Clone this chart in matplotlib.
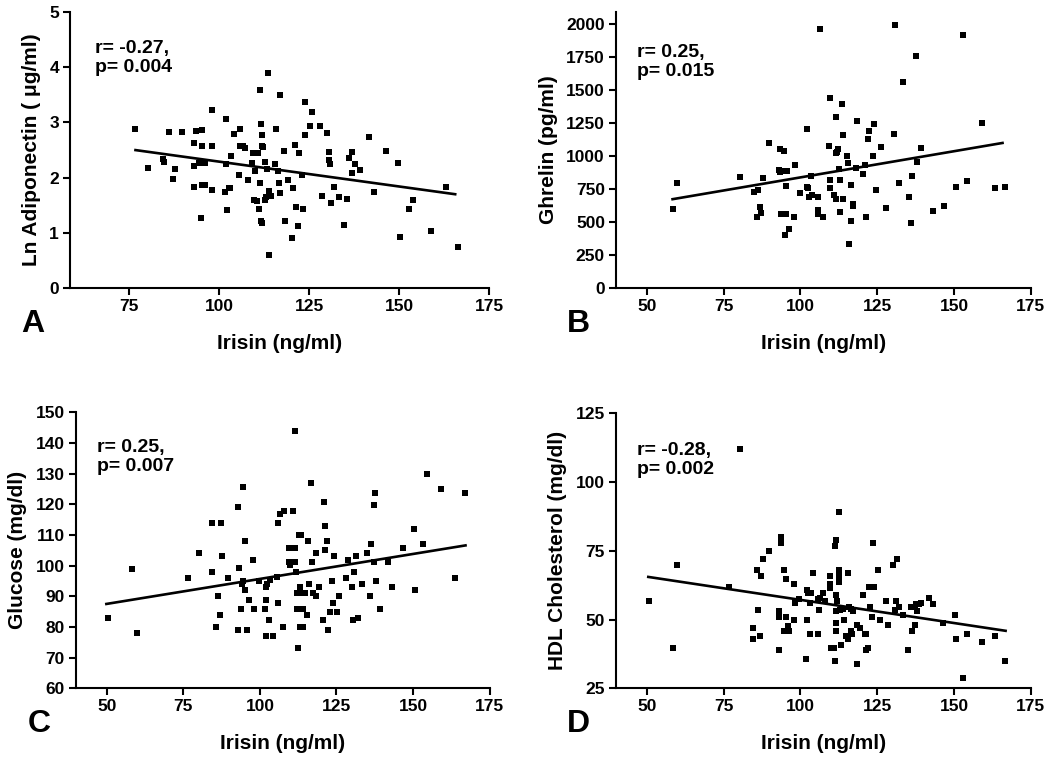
import matplotlib.pyplot as plt

plt.rcParams['font.family'] = ['Liberation Sans', 'DejaVu Sans']
plt.rcParams['font.weight'] = 'bold'

# Panel A: Ln adiponectin vs irisin
a_irisin = [76.7, 80.2, 84.4, 84.5, 86.1, 87.0, 87.8, 89.6, 92.9, 93.1, 93.1, 93.6, 94.3, 95.0,
            95.2, 95.2, 95.2, 95.9, 96.1, 98.0, 98.0, 98.1, 101.6, 101.9, 101.9, 102.1, 102.6,
            103.1, 103.2, 104.2, 105.6, 105.7, 105.7, 106.5, 107.2, 107.9, 109.1, 109.4, 109.6,
            109.9, 110.6, 110.9, 111.1, 111.3, 111.4, 111.6, 111.6, 111.9, 111.9, 112.0, 112.2,
            112.7, 112.7, 113.0, 113.3, 113.5, 113.7, 113.9, 114.4, 115.6, 115.8, 116.4, 116.7,
            116.9, 116.9, 118.1, 118.2, 119.0, 120.3, 120.4, 121.1, 121.3, 122.0, 122.2, 123.0,
            123.3, 123.8, 123.9, 125.2, 125.7, 128.1, 128.5, 129.9, 130.6, 130.6, 130.7, 131.1,
            131.9, 133.3, 134.8, 135.6, 136.1, 137.0, 137.0, 137.8, 139.2, 141.5, 143.1, 146.3,
            149.8, 150.3, 152.8, 154.0, 158.8, 163.0, 166.5]
a_adipo = [2.88, 2.17, 2.33, 2.29, 2.82, 1.98, 2.16, 2.83, 2.62, 2.21, 1.83, 2.85, 2.26, 1.27,
           2.87, 2.58, 1.87, 1.87, 2.27, 3.22, 2.58, 1.77, 1.74, 3.07, 2.25, 1.41, 1.81,
           1.81, 2.39, 2.79, 2.05, 2.89, 2.57, 2.57, 2.53, 1.96, 2.26, 2.44, 1.60,
           2.12, 1.57, 2.45, 1.44, 3.58, 1.90, 2.98, 1.21, 1.17, 2.77, 2.57, 2.55,
           2.28, 1.59, 1.65, 2.16, 3.90, 1.75, 0.59, 1.67, 2.24, 2.88, 2.12, 1.90,
           3.50, 1.72, 2.48, 1.22, 1.96, 0.90, 1.81, 2.60, 1.47, 1.13, 2.45, 2.04,
           1.44, 3.38, 2.78, 2.94, 3.19, 2.93, 1.67, 2.81, 2.47, 2.32, 2.25, 1.54,
           1.84, 1.65, 1.14, 1.62, 2.35, 2.47, 2.08, 2.25, 2.14, 2.73, 1.74, 2.48,
           2.26, 0.93, 1.44, 1.60, 1.04, 1.83, 0.74]
a_fit_x = [76.7, 165.6]
a_fit_y = [2.50, 1.70]

# Panel B: ghrelin vs irisin
b_irisin = [58.4, 60.0, 80.3, 84.8, 85.9, 86.2, 87.0, 87.1, 87.8, 89.7, 93.3, 92.9, 93.3, 93.8,
            94.6, 94.9, 95.0, 95.2, 95.4, 95.7, 96.3, 97.8, 98.3, 99.8, 102.0, 102.0, 102.5,
            102.8, 103.3, 103.9, 105.8, 105.8, 105.9, 106.5, 107.4, 109.2, 109.5, 109.6, 109.8,
            111.1, 111.5, 111.7, 111.7, 112.0, 112.4, 112.6, 112.8, 113.0, 113.7, 113.8, 113.8,
            115.2, 115.4, 115.9, 116.5, 116.6, 117.0, 117.2, 118.0, 118.3, 120.4, 121.2, 121.3,
            122.0, 122.4, 123.7, 123.9, 124.6, 126.1, 128.0, 130.4, 130.8, 132.1, 133.5, 135.2,
            135.9, 136.4, 137.8, 138.0, 139.3, 143.3, 146.7, 150.7, 153.0, 154.3, 159.0, 163.3,
            166.5]
b_ghrelin = [602, 797, 840, 731, 538, 739, 614, 571, 835, 1099, 1056, 891, 876, 558,
             1036, 886, 401, 563, 774, 888, 447, 538, 929, 718, 1208, 769, 759,
             688, 850, 703, 690, 591, 558, 1964, 538, 1074, 817, 759, 1442,
             701, 675, 1292, 1020, 1030, 1051, 901, 817, 579, 1393, 1162, 678,
             1000, 947, 330, 782, 510, 637, 622, 911, 1266, 865, 934, 536,
             1129, 1188, 997, 1241, 739, 1069, 604, 1170, 1992, 797, 1558, 690,
             495, 848, 1759, 954, 1061, 586, 624, 764, 1916, 812, 1248, 756,
             769]
b_fit_x = [58.4, 165.8]
b_fit_y = [673, 1099]

# Panel C: glucose vs irisin
c_irisin = [50.4, 58.3, 59.9, 76.6, 80.2, 84.5, 84.5, 87.2, 86.2, 85.7, 86.9, 87.7, 89.7, 92.9,
            93.1, 93.0, 93.7, 94.1, 94.4, 94.4, 95.2, 95.3, 95.9, 96.4, 97.9, 98.1, 99.8, 101.8,
            102.0, 102.0, 102.0, 102.3, 103.1, 103.3, 104.2, 105.7, 106.0, 105.9, 106.6, 107.5,
            107.9, 109.5, 109.5, 109.9, 110.8, 111.3, 111.3, 111.6, 111.8, 112.1, 112.2, 112.6,
            112.7, 112.9, 113.1, 113.2, 113.4, 114.0, 114.2, 114.8, 115.5, 115.8, 116.0, 116.8,
            117.1, 117.3, 118.2, 118.4, 119.3, 120.5, 120.8, 121.3, 121.3, 122.0, 122.2, 123.0,
            123.5, 123.9, 124.1, 125.3, 125.9, 128.0, 128.6, 130.2, 130.4, 130.6, 131.3, 132.0,
            133.4, 135.0, 135.8, 136.3, 137.1, 137.3, 137.7, 138.0, 139.1, 141.8, 143.0, 146.6,
            150.2, 150.6, 153.1, 154.4, 159.2, 163.8, 167.0]
c_glucose = [83.0, 99.0, 78.0, 96.1, 104.0, 97.9, 114.0, 114.0, 90.0, 79.9, 84.0, 103.0, 96.1, 119.0,
             99.1, 79.0, 86.0, 93.9, 125.8, 95.0, 108.0, 91.9, 79.0, 88.9, 102.0, 86.0, 95.0, 86.0,
             93.0, 88.9, 77.0, 94.1, 82.2, 95.2, 77.0, 96.2, 87.9, 113.9, 117.0, 80.0,
             117.9, 105.9, 101.1, 100.3, 117.9, 105.9, 143.8, 101.1, 97.9, 91.0, 86.0, 73.1,
             110.0, 91.0, 80.0, 93.0, 110.0, 80.0, 86.0, 91.0, 84.0, 108.0, 93.9, 126.9,
             101.1, 91.0, 90.0, 104.0, 93.0, 82.2, 120.9, 105.0, 112.9, 108.0, 79.0, 85.0,
             95.0, 87.9, 103.0, 85.0, 90.0, 96.1, 102.0, 93.0, 82.2, 97.9, 103.0, 83.0,
             94.1, 104.0, 90.0, 106.9, 119.9, 101.1, 123.7, 95.0, 86.0, 101.1, 93.0, 105.9,
             111.9, 91.9, 106.9, 129.9, 124.9, 96.1, 123.8]
c_fit_x = [49.9, 167.1]
c_fit_y = [87.5, 106.6]

# Panel D: HDL cholesterol vs irisin
d_irisin = [50.7, 60.0, 76.7, 80.4, 85.9, 86.2, 87.1, 87.8, 89.8, 93.0, 93.2, 93.7, 93.8, 94.6,
            95.2, 95.3, 98.0, 97.9, 98.4, 99.7, 102.0, 102.2, 102.5, 103.0, 103.3, 104.1, 105.8,
            106.0, 106.3, 107.4, 107.9, 109.6, 109.6, 109.7, 111.3, 111.7, 112.6, 111.6, 112.0,
            112.5, 112.6, 112.5, 112.5, 111.5, 111.7, 112.9, 113.8, 114.1, 115.4, 115.9, 116.5,
            117.2, 120.4, 122.2, 123.9, 122.8, 123.4, 123.7, 125.3, 125.8, 128.0, 130.2, 131.3,
            130.7, 131.1, 132.1, 133.5, 135.9, 137.3, 137.8, 138.0, 138.7, 139.3, 141.8, 143.3,
            146.5, 150.2,
            58.5, 84.6, 84.5, 87.0, 93.0, 94.8, 96.3, 96.0, 101.7, 103.0, 105.8, 110.0, 110.9,
            111.2, 113.3, 111.5, 114.7, 115.5, 116.8, 116.5, 118.4, 118.5, 119.3, 120.9, 121.5,
            121.4, 122.0, 128.5, 135.1, 136.4, 137.3, 150.8, 154.3, 159.2, 163.3, 166.5, 153.0]
d_hdl = [56.8, 70.0, 61.8, 112.1, 68.0, 53.6, 65.9, 72.0, 75.0, 53.0, 51.0, 80.1, 77.9, 68.0,
         64.9, 51.0, 63.1, 49.9, 56.1, 57.6, 49.9, 60.7, 59.8, 56.1, 59.8, 67.0, 57.6,
         53.6, 58.0, 59.8, 56.7, 65.9, 63.1, 61.3, 76.9, 78.9, 89.0, 58.9, 56.8,
         68.0, 66.7, 64.3, 63.7, 53.0, 48.8, 53.4, 53.8, 49.8, 67.0, 54.6, 54.0,
         53.2, 58.9, 61.9, 61.9, 54.6, 51.0, 77.9, 68.0, 49.9, 56.8, 70.0, 72.0,
         53.6, 56.8, 54.6, 51.8, 54.6, 54.6, 55.8, 53.0, 55.8, 56.1, 57.9, 55.8,
         48.8, 51.8,
         39.8, 47.0, 42.8, 43.9, 38.8, 45.9, 45.9, 47.7, 35.8, 44.9, 44.9, 39.8, 39.8,
         34.8, 40.9, 45.9, 43.9, 42.8, 44.9, 45.9, 33.7, 47.9, 47.0, 44.9, 44.9,
         38.8, 39.8, 47.9, 38.8, 45.9, 47.9, 42.8, 44.9, 41.9, 43.9, 34.8, 28.8]
d_fit_x = [50.5, 166.8]
d_fit_y = [65.5, 45.9]

fig = plt.figure(figsize=(10.5, 7.58), dpi=100)

panels = [
    ([0.0667, 0.620, 0.399, 0.364], a_irisin, a_adipo, a_fit_x, a_fit_y,
     (58.5, 175), (0, 5), [75, 100, 125, 150, 175], [0, 1, 2, 3, 4, 5],
     'Ln Adiponectin ( \u03bcg/ml)', 'r= -0.27,\np= 0.004', 'A', (0.06, 0.90)),
    ([0.5867, 0.620, 0.395, 0.364], b_irisin, b_ghrelin, b_fit_x, b_fit_y,
     (40, 175), (0, 2090), [50, 75, 100, 125, 150, 175], list(range(0, 2001, 250)),
     'Ghrelin (pg/ml)', 'r= 0.25,\np= 0.015', 'B', (0.05, 0.885)),
    ([0.0724, 0.092, 0.394, 0.364], c_irisin, c_glucose, c_fit_x, c_fit_y,
     (40, 175), (60, 150), [50, 75, 100, 125, 150, 175], list(range(60, 151, 10)),
     'Glucose (mg/dl)', 'r= 0.25,\np= 0.007', 'C', (0.05, 0.905)),
    ([0.5867, 0.092, 0.395, 0.3627], d_irisin, d_hdl, d_fit_x, d_fit_y,
     (40, 175), (25, 125), [50, 75, 100, 125, 150, 175], [25, 50, 75, 100, 125],
     'HDL Cholesterol (mg/dl)', 'r= -0.28,\np= 0.002', 'D', (0.05, 0.895)),
]

for rect, xs, ys, fx, fy, xlim, ylim, xt, yt, ylab, stat, letter, tpos in panels:
    ax = fig.add_axes(rect)
    ax.scatter(xs, ys, marker='s', s=16, color='black', linewidths=0, zorder=3)
    ax.plot(fx, fy, color='black', linewidth=1.9)
    ax.set_xlim(*xlim)
    ax.set_ylim(*ylim)
    ax.set_xticks(xt)
    ax.set_yticks(yt)
    for side in ['top', 'right']:
        ax.spines[side].set_visible(False)
    for side in ['left', 'bottom']:
        ax.spines[side].set_linewidth(1.5)
    ax.tick_params(direction='out', length=5, width=1.5, labelsize=12.5, pad=3)
    ax.set_xlabel('Irisin (ng/ml)', fontsize=15, fontweight='bold', labelpad=14)
    ax.set_ylabel(ylab, fontsize=15, fontweight='bold', labelpad=6)
    ax.text(tpos[0], tpos[1], stat, transform=ax.transAxes, fontsize=14,
            fontweight='bold', va='top', ha='left', linespacing=1.15)
    ax.text(-0.09, -0.13, letter, transform=ax.transAxes, fontsize=23,
            fontweight='bold', va='center', ha='center')

fig.savefig('out.png', dpi=100)
